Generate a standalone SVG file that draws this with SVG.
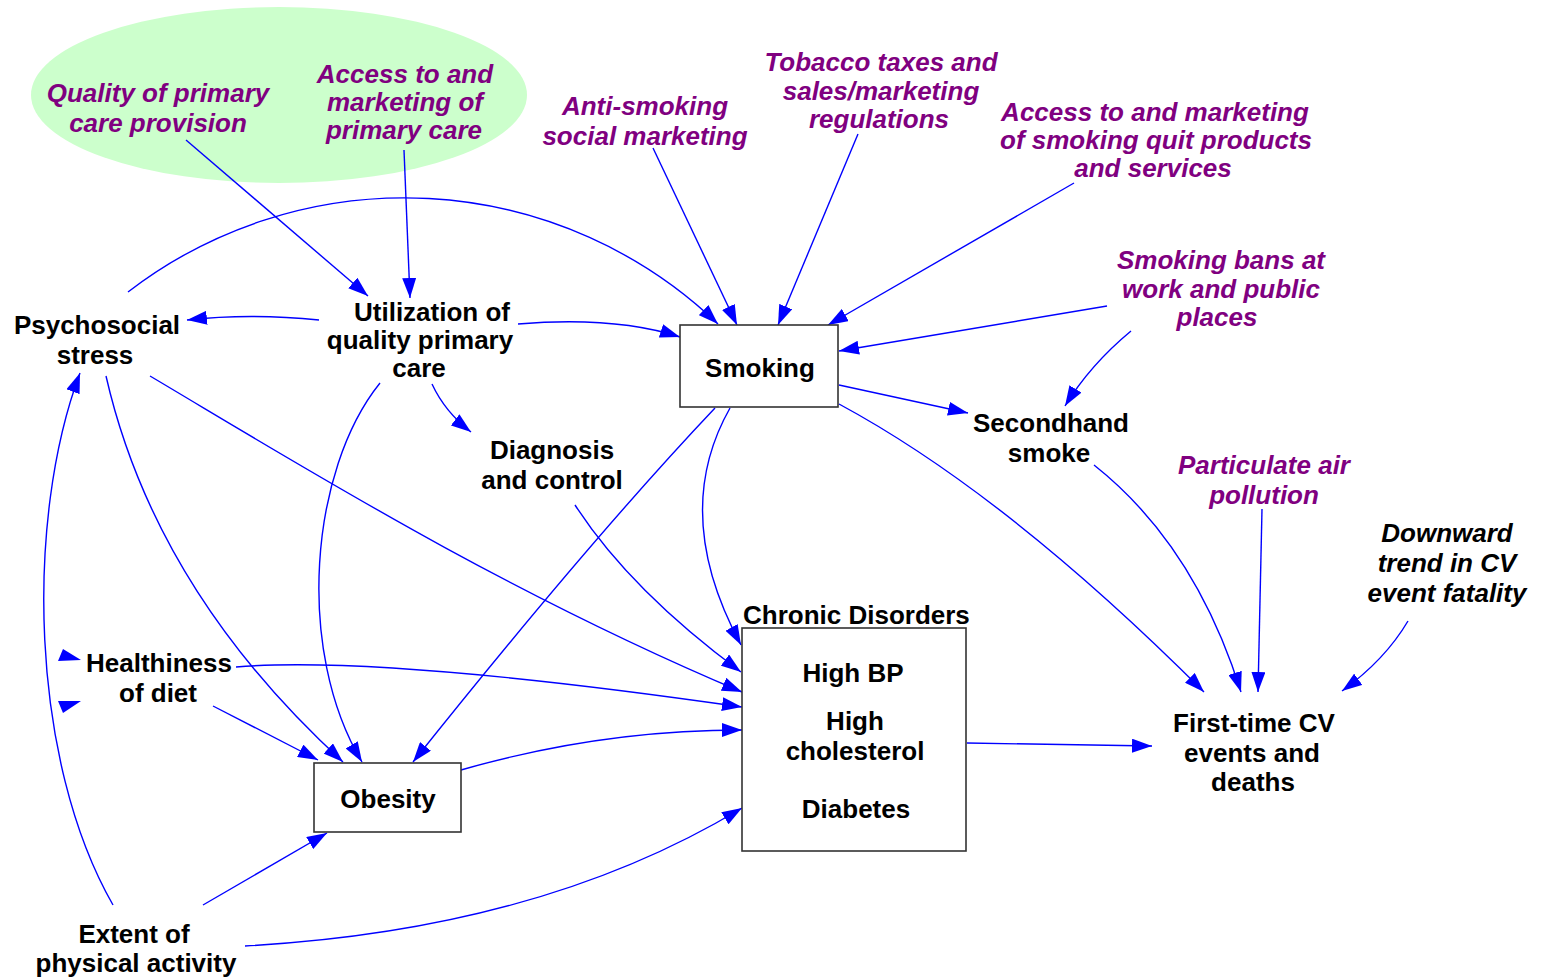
<svg xmlns="http://www.w3.org/2000/svg" width="1541" height="978" viewBox="0 0 1541 978">
<style>
  text { font-family: "Liberation Sans", Arial, sans-serif; font-size: 26px; font-weight: bold; text-anchor: middle; }
  .n { fill: #000000; }
  .p { fill: #800080; font-style: italic; }
  .k { fill: #000000; font-style: italic; }
  .box { fill: #ffffff; stroke: #333333; stroke-width: 1.6; }
  .c { fill: none; stroke: #0000ff; stroke-width: 1.4; marker-end: url(#ah); }
  .stray { fill: #0000ff; }
</style>
<defs>
  <marker id="ah" markerUnits="userSpaceOnUse" markerWidth="20" markerHeight="14" refX="20" refY="7" orient="auto" viewBox="0 0 20 14">
    <path d="M0,0 L20,7 L0,14 z" fill="#0000ff"/>
  </marker>
</defs>
<rect width="1541" height="978" fill="#ffffff"/>
<ellipse id="primary-care-zone" cx="279" cy="95" rx="248" ry="88" fill="#ccffcc"/>

<g id="connectors">
  <path class="c" d="M186,140 L368,296"/>
  <path class="c" d="M404,150 L410,298"/>
  <path class="c" d="M128,292 A453,453 0 0 1 718,324"/>
  <path class="c" d="M653,148 L737,325"/>
  <path class="c" d="M858,134 L778,325"/>
  <path class="c" d="M1074,183 L828,325"/>
  <path class="c" d="M1107,306 L839,351"/>
  <path class="c" d="M1131,331 Q1090,365 1065,406"/>
  <path class="c" d="M518,324 Q615,316 680,337"/>
  <path class="c" d="M319,320 Q250,313 187,320"/>
  <path class="c" d="M432,384 Q445,412 471,432"/>
  <path class="c" d="M380,383 C310,470 295,650 362,762"/>
  <path class="c" d="M106,376 Q155,590 343,762"/>
  <path class="c" d="M150,376 C300,465 500,590 742,692"/>
  <path class="c" d="M236,667 Q380,655 742,707"/>
  <path class="c" d="M213,706 L318,760"/>
  <path class="c" d="M715,408 Q590,540 413,762"/>
  <path class="c" d="M730,408 Q670,514 741,645"/>
  <path class="c" d="M575,505 Q630,590 741,672"/>
  <path class="c" d="M461,770 Q600,730 742,730"/>
  <path class="c" d="M203,905 L327,833"/>
  <path class="c" d="M245,946 Q540,930 742,808"/>
  <path class="c" d="M113,905 C30,760 25,520 80,373"/>
  <path class="c" d="M839,385 L968,413"/>
  <path class="c" d="M839,404 Q1006,494 1204,692"/>
  <path class="c" d="M1094,465 Q1195,545 1241,692"/>
  <path class="c" d="M1262,509 L1258,692"/>
  <path class="c" d="M1408,621 Q1385,660 1342,691"/>
  <path class="c" d="M967,743 L1152,746"/>
  <polygon class="stray" points="63,649 81,660 58,661"/>
  <polygon class="stray" points="58,701 81,701 63,713"/>
</g>

<g id="quality-primary-care">
  <text class="p" x="158" y="102">Quality of primary</text>
  <text class="p" x="158" y="132">care provision</text>
</g>
<g id="access-primary-care">
  <text class="p" x="405" y="83">Access to and</text>
  <text class="p" x="405" y="111">marketing of</text>
  <text class="p" x="404" y="139">primary care</text>
</g>
<g id="anti-smoking">
  <text class="p" x="645" y="115">Anti-smoking</text>
  <text class="p" x="645" y="145">social marketing</text>
</g>
<g id="tobacco-taxes">
  <text class="p" x="881" y="71">Tobacco taxes and</text>
  <text class="p" x="881" y="100">sales/marketing</text>
  <text class="p" x="879" y="128">regulations</text>
</g>
<g id="quit-products">
  <text class="p" x="1155" y="121">Access to and marketing</text>
  <text class="p" x="1156" y="149">of smoking quit products</text>
  <text class="p" x="1153" y="177">and services</text>
</g>
<g id="smoking-bans">
  <text class="p" x="1221" y="269">Smoking bans at</text>
  <text class="p" x="1221" y="298">work and public</text>
  <text class="p" x="1217" y="326">places</text>
</g>
<g id="particulate">
  <text class="p" x="1264" y="474">Particulate air</text>
  <text class="p" x="1264" y="504">pollution</text>
</g>
<g id="downward-trend">
  <text class="k" x="1447" y="542">Downward</text>
  <text class="k" x="1447" y="572">trend in CV</text>
  <text class="k" x="1447" y="602">event fatality</text>
</g>

<g id="psychosocial-stress">
  <text class="n" x="97" y="334">Psychosocial</text>
  <text class="n" x="95" y="364">stress</text>
</g>
<g id="utilization">
  <text class="n" x="432" y="321">Utilization of</text>
  <text class="n" x="420" y="349">quality primary</text>
  <text class="n" x="419" y="377">care</text>
</g>
<g id="smoking">
  <rect class="box" x="680" y="325" width="158" height="82"/>
  <text class="n" x="760" y="377">Smoking</text>
</g>
<g id="secondhand-smoke">
  <text class="n" x="1051" y="432">Secondhand</text>
  <text class="n" x="1049" y="462">smoke</text>
</g>
<g id="diagnosis">
  <text class="n" x="552" y="459">Diagnosis</text>
  <text class="n" x="552" y="489">and control</text>
</g>
<g id="chronic-disorders">
  <text class="n" x="743" y="624" style="text-anchor:start">Chronic Disorders</text>
  <rect class="box" x="742" y="628" width="224" height="223"/>
  <text class="n" x="853" y="682">High BP</text>
  <text class="n" x="855" y="730">High</text>
  <text class="n" x="855" y="760">cholesterol</text>
  <text class="n" x="856" y="818">Diabetes</text>
</g>
<g id="healthiness-diet">
  <text class="n" x="159" y="672">Healthiness</text>
  <text class="n" x="158" y="702">of diet</text>
</g>
<g id="obesity">
  <rect class="box" x="314" y="763" width="147" height="69"/>
  <text class="n" x="388" y="808">Obesity</text>
</g>
<g id="physical-activity">
  <text class="n" x="134" y="943">Extent of</text>
  <text class="n" x="136" y="972">physical activity</text>
</g>
<g id="first-time-cv">
  <text class="n" x="1254" y="732">First-time CV</text>
  <text class="n" x="1252" y="762">events and</text>
  <text class="n" x="1253" y="791">deaths</text>
</g>
</svg>
